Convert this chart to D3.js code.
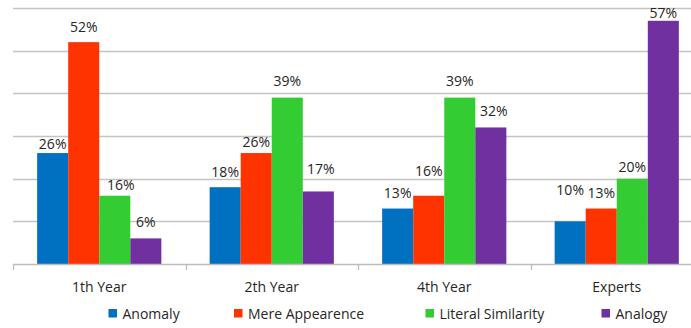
<!DOCTYPE html>
<html>
<head>
<meta charset="utf-8">
<script src="https://cdn.jsdelivr.net/npm/d3@7"></script>
<style>
  html, body { margin: 0; padding: 0; background: #ffffff; }
  svg { display: block; }
  text { font-family: "Open Sans", "Noto Sans", sans-serif; fill: #262626; }
</style>
</head>
<body>
<svg id="chart" width="691" height="328"></svg>
<script>
// Groups along the x axis
const categories = ["1th Year", "2th Year", "4th Year", "Experts"];
// Series names (legend order)
const seriesNames = ["Anomaly", "Mere Appearence", "Literal Similarity", "Analogy"];
// Percent values, one array per series, in category order
const anomaly = [26, 18, 13, 10];
const mereAppearence = [52, 26, 16, 13];
const literalSimilarity = [16, 39, 39, 20];
const analogy = [6, 17, 32, 57];
// Value-axis gridline ticks
const yTicks = [0, 10, 20, 30, 40, 50, 60];

const seriesValues = [anomaly, mereAppearence, literalSimilarity, analogy];
const colors = ["#0070C0", "#FF3300", "#33CC33", "#7030A0"];

// Hand-tuned label nudges [dx, lift above bar top] per category, per series
const labelNudge = [
  [[0, 4], [0, 10.5], [6, 6], [0, 11.5]],
  [[0, 10.6], [0, 6], [0, 11.6], [2.5, 17]],
  [[0, 10.7], [0, 19.3], [0, 11.6], [3, 11.7]],
  [[0, 26], [0, 11], [0, 7], [0, 2.5]]
];

const svg = d3.select("#chart");
const plotLeft = 13, plotRight = 703, plotTop = 8, plotBottom = 264;

const x0 = d3.scaleBand().domain(categories).range([plotLeft, plotRight])
  .paddingInner(0.28).paddingOuter(0.14);
const x1 = d3.scaleBand().domain(seriesNames).range([0, x0.bandwidth()]);
const y = d3.scaleLinear().domain([0, 60]).range([plotBottom, plotTop]);
const color = d3.scaleOrdinal().domain(seriesNames).range(colors);

// Horizontal gridlines
svg.append("g").selectAll("line")
  .data(yTicks.filter(d => d > 0))
  .join("line")
  .attr("x1", plotLeft).attr("x2", 691)
  .attr("y1", d => Math.round(y(d)) + 0.5)
  .attr("y2", d => Math.round(y(d)) + 0.5)
  .attr("stroke", "#c4c4c4").attr("stroke-width", 1.3);

// Bars
const rows = categories.map((c, ci) => seriesNames.map((s, si) => ({
  cat: c, ci, series: s, si, value: seriesValues[si][ci]
})));

const groups = svg.append("g").selectAll("g")
  .data(rows).join("g")
  .attr("transform", d => `translate(${x0(d[0].cat)},0)`);

groups.selectAll("rect")
  .data(d => d).join("rect")
  .attr("x", d => x1(d.series))
  .attr("y", d => y(d.value))
  .attr("width", x1.bandwidth())
  .attr("height", d => y(0) - y(d.value))
  .attr("fill", d => color(d.series));

// Value labels
groups.selectAll("text")
  .data(d => d).join("text")
  .attr("x", d => x1(d.series) + x1.bandwidth() / 2 + labelNudge[d.ci][d.si][0])
  .attr("y", d => y(d.value) - labelNudge[d.ci][d.si][1])
  .attr("text-anchor", "middle")
  .attr("font-size", 14)
  .text(d => d.value + "%");

// Category axis: baseline, boundary ticks and labels
const axis = svg.append("g");
axis.append("line")
  .attr("x1", plotLeft).attr("x2", 691)
  .attr("y1", plotBottom + 0.5).attr("y2", plotBottom + 0.5)
  .attr("stroke", "#bdbdbd").attr("stroke-width", 1.3);

const step = x0.step();
axis.selectAll("line.tick")
  .data(d3.range(categories.length + 1))
  .join("line").attr("class", "tick")
  .attr("x1", i => Math.round(plotLeft + i * step) + 0.5)
  .attr("x2", i => Math.round(plotLeft + i * step) + 0.5)
  .attr("y1", plotBottom).attr("y2", plotBottom + 6)
  .attr("stroke", "#bdbdbd").attr("stroke-width", 1.3);

axis.selectAll("text")
  .data(categories).join("text")
  .attr("x", d => x0(d) + x0.bandwidth() / 2)
  .attr("y", 291.5)
  .attr("text-anchor", "middle")
  .attr("font-size", 14)
  .text(d => d);

// Legend
const legendX = [108.5, 234, 425.5, 601.5];
const legend = svg.append("g").selectAll("g")
  .data(seriesNames).join("g")
  .attr("transform", (d, i) => `translate(${legendX[i]},0)`);
legend.append("rect")
  .attr("x", 0).attr("y", 309).attr("width", 8.5).attr("height", 8.5)
  .attr("fill", d => color(d));
legend.append("text")
  .attr("x", 14).attr("y", 318.5)
  .attr("font-size", 14)
  .text(d => d);
</script>
</body>
</html>
